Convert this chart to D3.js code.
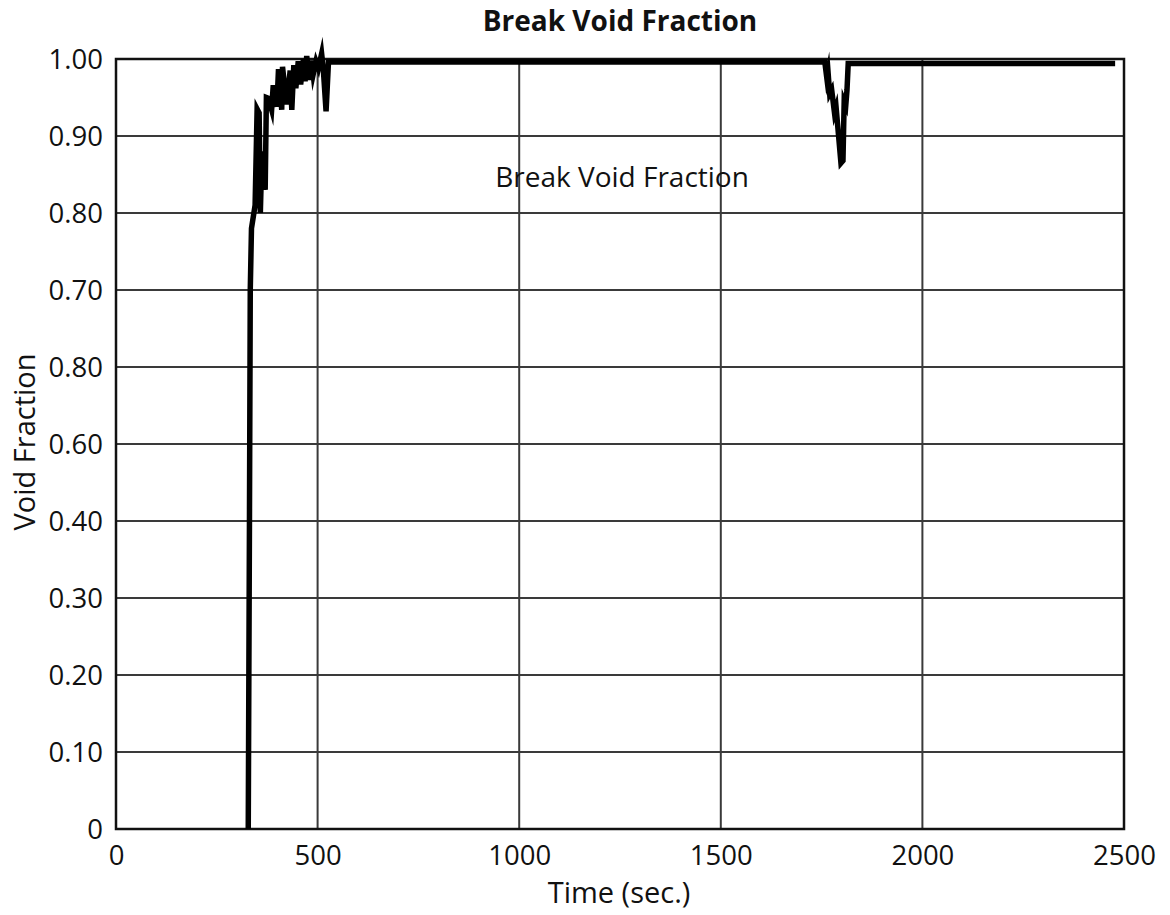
<!DOCTYPE html>
<html>
<head>
<meta charset="utf-8">
<script src="https://cdn.jsdelivr.net/npm/d3@7"></script>
<style>
  body { margin: 0; background: #fff; }
  text { font-family: "Open Sans", "DejaVu Sans", sans-serif; fill: #111; }
</style>
</head>
<body>
<div id="chart"></div>
<script>
// break void fraction trace
const timeSec = [
  328, 331, 333, 336, 345, 350, 355, 358, 362, 366, 368, 370, 373,
  378, 386, 390, 399, 403, 411, 413, 423, 432, 436, 441, 446, 452, 458,
  465, 469, 473, 479, 485, 489, 496, 502, 510, 514, 521, 527,
  1000, 1500, 1758, 1763, 1766, 1770, 1775, 1782, 1786, 1798, 1803,
  1806, 1810, 1813, 1816, 2000, 2478
];
const voidFrac = [
  0, 0.40, 0.70, 0.78, 0.81, 0.935, 0.93, 0.80, 0.88, 0.83, 0.87, 0.83, 0.95,
  0.949, 0.934, 0.966, 0.938, 0.987, 0.934, 0.990, 0.941, 0.985, 0.934, 0.992, 0.962, 0.997, 0.967,
  1.000, 0.971, 1.004, 0.973, 0.998, 0.980, 0.997, 0.988, 1.007, 0.988, 0.932, 0.996,
  0.996, 0.996, 0.996, 0.975, 0.983, 0.955, 0.960, 0.930, 0.937, 0.865, 0.868,
  0.945, 0.940, 0.960, 0.994, 0.994, 0.994
];

const xTicks = [0, 500, 1000, 1500, 2000, 2500];
const yTicks = [0, 0.1, 0.2, 0.3, 0.4, 0.5, 0.6, 0.7, 0.8, 0.9, 1.0];
// labels as printed on the original figure
const yTickLabels = ["0", "0.10", "0.20", "0.30", "0.40", "0.60", "0.80", "0.70", "0.80", "0.90", "1.00"];

const width = 1170, height = 915;
const margin = { top: 59, right: 46, bottom: 86, left: 116 };
const w = width - margin.left - margin.right;
const h = height - margin.top - margin.bottom;

const svg = d3.select("#chart").append("svg")
  .attr("width", width)
  .attr("height", height);

const g = svg.append("g")
  .attr("transform", `translate(${margin.left},${margin.top})`);

const x = d3.scaleLinear().domain([0, 2500]).range([0, w]);
const y = d3.scaleLinear().domain([0, 1]).range([h, 0]);

// grid
g.selectAll(".hgrid")
  .data(yTicks)
  .enter().append("line")
  .attr("x1", 0).attr("x2", w)
  .attr("y1", d => y(d)).attr("y2", d => y(d))
  .attr("stroke", "#3a3a3a").attr("stroke-width", 2);

g.selectAll(".vgrid")
  .data(xTicks)
  .enter().append("line")
  .attr("x1", d => x(d)).attr("x2", d => x(d))
  .attr("y1", 0).attr("y2", h)
  .attr("stroke", "#3a3a3a").attr("stroke-width", 2);

// axes
const yAxis = d3.axisLeft(y)
  .tickValues(yTicks)
  .tickSize(0)
  .tickPadding(13)
  .tickFormat((d, i) => yTickLabels[i]);

const xAxis = d3.axisBottom(x)
  .tickValues(xTicks)
  .tickSize(0)
  .tickPadding(11)
  .tickFormat(d3.format("d"));

g.append("g").call(yAxis)
  .call(a => a.select(".domain").remove())
  .selectAll("text")
  .attr("font-size", 27.5)
  .attr("dy", "0.36em");

g.append("g").attr("transform", `translate(0,${h})`).call(xAxis)
  .call(a => a.select(".domain").remove())
  .selectAll("text")
  .attr("font-size", 27.5)
  .attr("dy", "0.92em");

// frame
g.append("rect")
  .attr("width", w).attr("height", h)
  .attr("fill", "none")
  .attr("stroke", "#111")
  .attr("stroke-width", 2.5);

// data line
const pts = timeSec.map((t, i) => [t, voidFrac[i]]);
g.append("path")
  .datum(pts)
  .attr("d", d3.line().x(d => x(d[0])).y(d => y(d[1])))
  .attr("fill", "none")
  .attr("stroke", "#000")
  .attr("stroke-width", 5.5)
  .attr("stroke-linejoin", "miter")
  .attr("stroke-miterlimit", 8);

// titles
svg.append("text")
  .attr("x", 620).attr("y", 31)
  .attr("text-anchor", "middle")
  .attr("font-size", 28)
  .attr("font-weight", "bold")
  .text("Break Void Fraction");

g.append("text")
  .attr("x", x(1255)).attr("y", 128)
  .attr("text-anchor", "middle")
  .attr("font-size", 28)
  .text("Break Void Fraction");

svg.append("text")
  .attr("x", 619).attr("y", 903)
  .attr("text-anchor", "middle")
  .attr("font-size", 29)
  .text("Time (sec.)");

svg.append("text")
  .attr("transform", "translate(35,442) rotate(-90)")
  .attr("text-anchor", "middle")
  .attr("font-size", 29)
  .text("Void Fraction");
</script>
</body>
</html>
